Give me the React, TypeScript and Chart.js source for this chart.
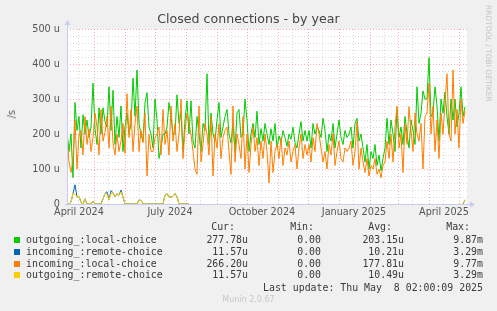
import React, { useEffect, useRef } from "react";
import { Chart, registerables } from "chart.js";

Chart.register(...registerables);

// ---- Data (values in micro-units per second, one point per 2 days) ----
const START_DATE = "2024-04-04";
const STEP_DAYS = 2;
const X_MAX_DAYS = 400;

const seriesNames = [
  "outgoing_:local-choice",
  "incoming_:remote-choice",
  "incoming_:local-choice",
  "outgoing_:remote-choice",
];
const seriesColors = ["#00CC00", "#0066B3", "#FF8000", "#FFCC00"];
const curVals = ["277.78u", "11.57u", "266.20u", "11.57u"];
const minVals = ["0.00", "0.00", "0.00", "0.00"];
const avgVals = ["203.15u", "10.21u", "177.81u", "10.49u"];
const maxVals = ["9.87m", "3.29m", "9.77m", "3.29m"];

const greenVals = [
  210, 150, 200, 75, 290, 210, 250, 160, 255, 200, 240, 190, 220, 345, 215, 170, 275, 200, 275, 235,
  220, 335, 210, 325, 170, 250, 190, 280, 150, 220, 260, 200, 230, 360, 250, 383, 230, 200, 180, 290,
  318, 220, 200, 160, 300, 240, 130, 160, 200, 200, 220, 290, 250, 200, 200, 312, 230, 260, 150, 240,
  295, 200, 295, 180, 160, 250, 200, 150, 230, 210, 372, 170, 260, 200, 180, 240, 290, 190, 220, 250,
  270, 200, 175, 230, 150, 260, 270, 190, 200, 300, 240, 150, 200, 230, 190, 265, 170, 215, 180, 230,
  200, 170, 215, 180, 230, 160, 195, 175, 210, 190, 165, 200, 185, 220, 175, 160, 200, 235, 180, 210,
  180, 210, 160, 230, 200, 220, 210, 190, 245, 210, 150, 200, 180, 230, 160, 200, 240, 190, 170, 210,
  190, 200, 220, 160, 230, 245, 180, 200, 160, 120, 170, 100, 150, 130, 170, 110, 140, 95, 130, 160,
  245, 170, 240, 200, 150, 270, 190, 220, 170, 250, 200, 160, 240, 210, 170, 335, 230, 260, 323, 300,
  300, 418, 250, 260, 335, 280, 180, 300, 260, 320, 250, 200, 300, 240, 300, 220, 260, 335, 250, 278,
];

const orangeVals = [
  200, 120, 90, 130, 240, 100, 200, 210, 140, 250, 170, 215, 150, 190, 260, 220, 140, 270, 180, 205,
  250, 160, 280, 175, 140, 200, 150, 180, 230, 145, 315, 190, 270, 150, 230, 280, 150, 210, 175, 260,
  80, 200, 150, 150, 190, 200, 220, 140, 270, 170, 210, 140, 280, 180, 230, 150, 200, 300, 130, 210,
  260, 230, 200, 150, 100, 85, 280, 120, 170, 230, 200, 140, 250, 80, 200, 160, 230, 130, 190, 210,
  220, 150, 85, 280, 120, 200, 170, 130, 250, 100, 200, 90, 170, 220, 150, 190, 110, 180, 130, 200,
  150, 60, 180, 90, 150, 170, 130, 190, 110, 160, 140, 180, 120, 150, 170, 100, 160, 200, 130, 170,
  140, 170, 120, 190, 150, 230, 200, 160, 120, 150, 100, 170, 140, 200, 110, 150, 180, 130, 120, 160,
  150, 160, 180, 110, 150, 235, 100, 160, 120, 90, 130, 80, 110, 100, 130, 85, 100, 75, 110, 120,
  180, 130, 200, 120, 220, 280, 160, 200, 90, 230, 170, 278, 210, 150, 260, 200, 180, 230, 100, 250,
  260, 345, 200, 280, 150, 240, 130, 260, 200, 290, 372, 200, 180, 383, 200, 270, 160, 300, 230, 266,
];

const N = null;
const blueVals = [
  0, 0, 5, 30, 55, 20, 22, 5, 0, 15, 0, 0, 0, 8, 0, 0, 0, 0, 15, 30,
  35, 12, 38, 32, 20, 30, 25, 40, 20, 0, 0, 0, 0, 0, 0, 0, 12, 10, 0, 0,
  0, 0, 0, 0, 0, 0, 0, 0, 0, 25, 30, 20, 20, 22, 30, 20, 0, 0, 0, 0,
  0, 0, N, N, N, N, N, N, N, N, N, N, N, N, N, N, N, N, N, N,
  N, N, N, N, N, N, N, N, N, N, N, N, N, N, N, N, N, N, N, N,
  N, N, N, N, N, N, N, N, N, N, N, N, N, N, N, N, N, N, N, N,
  N, N, N, N, N, N, N, N, N, N, N, N, N, N, N, N, N, N, N, N,
  N, N, N, N, N, N, N, N, N, N, N, N, N, N, N, N, N, N, N, N,
  N, N, N, N, N, N, N, N, N, N, N, N, N, N, N, N, N, N, N, N,
  N, N, N, N, N, N, N, N, N, N, N, N, N, N, N, N, N, N, 0, 12,
];

const yellowVals = [
  0, 0, 5, 30, 28, 20, 22, 5, 0, 15, 0, 0, 0, 8, 0, 0, 0, 0, 15, 30,
  28, 12, 30, 32, 20, 30, 25, 35, 20, 0, 0, 0, 0, 0, 0, 0, 12, 10, 0, 0,
  0, 0, 0, 0, 0, 0, 0, 0, 0, 25, 30, 20, 20, 22, 30, 20, 0, 0, 0, 0,
  0, 0, N, N, N, N, N, N, N, N, N, N, N, N, N, N, N, N, N, N,
  N, N, N, N, N, N, N, N, N, N, N, N, N, N, N, N, N, N, N, N,
  N, N, N, N, N, N, N, N, N, N, N, N, N, N, N, N, N, N, N, N,
  N, N, N, N, N, N, N, N, N, N, N, N, N, N, N, N, N, N, N, N,
  N, N, N, N, N, N, N, N, N, N, N, N, N, N, N, N, N, N, N, N,
  N, N, N, N, N, N, N, N, N, N, N, N, N, N, N, N, N, N, N, N,
  N, N, N, N, N, N, N, N, N, N, N, N, N, N, N, N, N, N, 0, 12,
];

const tickLabels = ["April 2024", "July 2024", "October 2024", "January 2025", "April 2025"];
const tickDates = ["2024-04-16", "2024-07-16", "2024-10-16", "2025-01-16", "2025-04-16"];
const monthStartDates = [
  "2024-05-01", "2024-06-01", "2024-07-01", "2024-08-01", "2024-09-01", "2024-10-01",
  "2024-11-01", "2024-12-01", "2025-01-01", "2025-02-01", "2025-03-01", "2025-04-01", "2025-05-01",
];
const midMonthDates = [
  "2024-04-15", "2024-05-15", "2024-06-15", "2024-07-15", "2024-08-15", "2024-09-15", "2024-10-15",
  "2024-11-15", "2024-12-15", "2025-01-15", "2025-02-15", "2025-03-15", "2025-04-15",
];
const yTicks = [0, 100, 200, 300, 400, 500];

const startMs = Date.parse(START_DATE + "T00:00:00Z");
const toDay = (s: string) => Math.round((Date.parse(s + "T00:00:00Z") - startMs) / 86400000);
const toPoints = (vals: (number | null)[]) => vals.map((v, i) => ({ x: i * STEP_DAYS, y: v }));

const rrdPlugin = {
  id: "rrdGrid",
  beforeDraw(chart: any) {
    const { ctx, chartArea: a } = chart;
    ctx.save();
    ctx.fillStyle = "#ffffff";
    ctx.fillRect(a.left, a.top, a.right - a.left, a.bottom - a.top);
    ctx.restore();
  },
  beforeDatasetsDraw(chart: any) {
    const { ctx, chartArea: a, scales } = chart;
    const x = scales.x;
    const y = scales.y;
    ctx.save();
    ctx.lineWidth = 1;
    ctx.setLineDash([1, 2]);
    // minor grid
    ctx.strokeStyle = "rgba(170,170,170,0.42)";
    for (let v = 0; v <= 500; v += 20) {
      if (v % 100 === 0) continue;
      const py = Math.round(y.getPixelForValue(v)) + 0.5;
      ctx.beginPath();
      ctx.moveTo(a.left, py);
      ctx.lineTo(a.right, py);
      ctx.stroke();
    }
    midMonthDates.forEach((d) => {
      const day = toDay(d);
      if (day < 0 || day > X_MAX_DAYS) return;
      const px = Math.round(x.getPixelForValue(day)) + 0.5;
      ctx.beginPath();
      ctx.moveTo(px, a.top);
      ctx.lineTo(px, a.bottom);
      ctx.stroke();
    });
    // major grid
    ctx.strokeStyle = "rgba(235,90,90,0.5)";
    yTicks.forEach((v) => {
      if (v === 0) return;
      const py = Math.round(y.getPixelForValue(v)) + 0.5;
      ctx.beginPath();
      ctx.moveTo(a.left, py);
      ctx.lineTo(a.right, py);
      ctx.stroke();
    });
    monthStartDates.forEach((d) => {
      const day = toDay(d);
      if (day < 0 || day > X_MAX_DAYS) return;
      const px = Math.round(x.getPixelForValue(day)) + 0.5;
      ctx.beginPath();
      ctx.moveTo(px, a.top);
      ctx.lineTo(px, a.bottom);
      ctx.stroke();
    });
    ctx.restore();
  },
  afterDatasetsDraw(chart: any) {
    const { ctx, chartArea: a } = chart;
    ctx.save();
    ctx.setLineDash([]);
    ctx.strokeStyle = "#c8ccee";
    ctx.fillStyle = "#c8ccee";
    ctx.lineWidth = 1;
    const lx = a.left + 0.5;
    const by = a.bottom + 0.5;
    ctx.beginPath();
    ctx.moveTo(lx, a.bottom + 2);
    ctx.lineTo(lx, a.top - 5);
    ctx.moveTo(a.left - 2, by);
    ctx.lineTo(a.right + 4, by);
    ctx.stroke();
    ctx.beginPath();
    ctx.moveTo(lx - 3, a.top - 4);
    ctx.lineTo(lx + 3, a.top - 4);
    ctx.lineTo(lx, a.top - 9);
    ctx.closePath();
    ctx.fill();
    ctx.beginPath();
    ctx.moveTo(a.right + 3, by - 3);
    ctx.lineTo(a.right + 3, by + 3);
    ctx.lineTo(a.right + 8, by);
    ctx.closePath();
    ctx.fill();
    ctx.restore();
  },
};

export default function App() {
  const ref = useRef<HTMLCanvasElement | null>(null);

  useEffect(() => {
    if (!ref.current) return;
    const tickDays = tickDates.map(toDay);
    const mk = (i: number, vals: (number | null)[], order: number) => ({
      label: seriesNames[i],
      data: toPoints(vals),
      borderColor: seriesColors[i],
      backgroundColor: seriesColors[i],
      borderWidth: 1,
      pointRadius: 0,
      tension: 0,
      fill: false,
      spanGaps: false,
      order,
    });
    const chart = new Chart(ref.current, {
      type: "line",
      data: {
        datasets: [
          mk(0, greenVals, 4),
          mk(1, blueVals, 3),
          mk(2, orangeVals, 2),
          mk(3, yellowVals, 1),
        ],
      },
      options: {
        responsive: false,
        animation: false,
        devicePixelRatio: 1,
        layout: { padding: { left: 0, top: 29, right: 30, bottom: 87 } },
        plugins: {
          legend: { display: false },
          tooltip: { enabled: false },
          title: { display: false },
        },
        scales: {
          x: {
            type: "linear",
            min: 0,
            max: X_MAX_DAYS,
            grid: { display: false, drawTicks: false },
            border: { display: false },
            afterBuildTicks: (s: any) => {
              s.ticks = tickDays.map((v) => ({ value: v }));
            },
            afterFit: (s: any) => {
              s.height = 20;
            },
            ticks: {
              autoSkip: false,
              maxRotation: 0,
              minRotation: 0,
              padding: 3,
              color: "#555",
              font: { family: "DejaVu Sans", size: 9.7 },
              callback: (_v: any, i: number) => tickLabels[i],
            },
          },
          y: {
            type: "linear",
            min: 0,
            max: 500,
            grid: { display: false, drawTicks: false },
            border: { display: false },
            afterFit: (s: any) => {
              s.width = 67;
            },
            ticks: {
              stepSize: 100,
              padding: 7,
              color: "#555",
              font: { family: "DejaVu Sans", size: 9.7 },
              callback: (v: any) => (v === 0 ? "0" : `${v} u`),
            },
          },
        },
      } as any,
      plugins: [rrdPlugin],
    });
    return () => chart.destroy();
  }, []);

  const mono = "'DejaVu Sans Mono', monospace";
  const rowTops = [234, 246, 258, 269];
  const abs = (style: any): any => ({ position: "absolute", whiteSpace: "pre", ...style });

  return (
    <div
      style={{
        position: "absolute",
        left: 0,
        top: 0,
        width: 497,
        height: 311,
        background: "#f0f0f0",
        overflow: "hidden",
        fontFamily: "'DejaVu Sans', sans-serif",
      }}
    >
      <canvas
        ref={ref}
        width={497}
        height={311}
        style={{ position: "absolute", left: 0, top: 0, width: 497, height: 311 }}
      />
      <div
        style={abs({
          left: 0,
          top: 11,
          width: 497,
          textAlign: "center",
          fontSize: 12.6,
          lineHeight: "16px",
          color: "#444",
        })}
      >
        Closed connections - by year
      </div>
      <div
        style={abs({
          left: 6,
          top: 110,
          fontSize: 9.7,
          lineHeight: "12px",
          color: "#555",
          writingMode: "vertical-rl",
          transform: "rotate(180deg)",
        })}
      >
        /s
      </div>
      <div
        style={abs({
          left: 484,
          top: 5,
          fontSize: 7.5,
          lineHeight: "9px",
          color: "#c4c4c4",
          writingMode: "vertical-rl",
        })}
      >
        RRDTOOL / TOBI OETIKER
      </div>
      {/* legend table */}
      <div style={abs({ left: 0, top: 0, width: 497, height: 311, fontFamily: mono, fontSize: 9.9, lineHeight: "12px", color: "#3a3a3a" })}>
        <div style={abs({ right: 497 - 235, top: 221 })}>Cur:</div>
        <div style={abs({ right: 497 - 314, top: 221 })}>Min:</div>
        <div style={abs({ right: 497 - 392, top: 221 })}>Avg:</div>
        <div style={abs({ right: 497 - 470, top: 221 })}>Max:</div>
        {seriesNames.map((n, i) => (
          <React.Fragment key={n}>
            <div
              style={abs({
                left: 14,
                top: rowTops[i] + 3,
                width: 6,
                height: 6,
                background: seriesColors[i],
              })}
            />
            <div style={abs({ left: 26, top: rowTops[i] })}>{n}</div>
            <div style={abs({ right: 497 - 248, top: rowTops[i] })}>{curVals[i]}</div>
            <div style={abs({ right: 497 - 321, top: rowTops[i] })}>{minVals[i]}</div>
            <div style={abs({ right: 497 - 404, top: rowTops[i] })}>{avgVals[i]}</div>
            <div style={abs({ right: 497 - 483, top: rowTops[i] })}>{maxVals[i]}</div>
          </React.Fragment>
        ))}
        <div style={abs({ right: 497 - 483, top: 282 })}>Last update: Thu May  8 02:00:09 2025</div>
      </div>
      <div
        style={abs({
          left: 0,
          width: 497,
          top: 295,
          textAlign: "center",
          fontSize: 8,
          lineHeight: "10px",
          color: "#c8c8c8",
        })}
      >
        Munin 2.0.67
      </div>
    </div>
  );
}
